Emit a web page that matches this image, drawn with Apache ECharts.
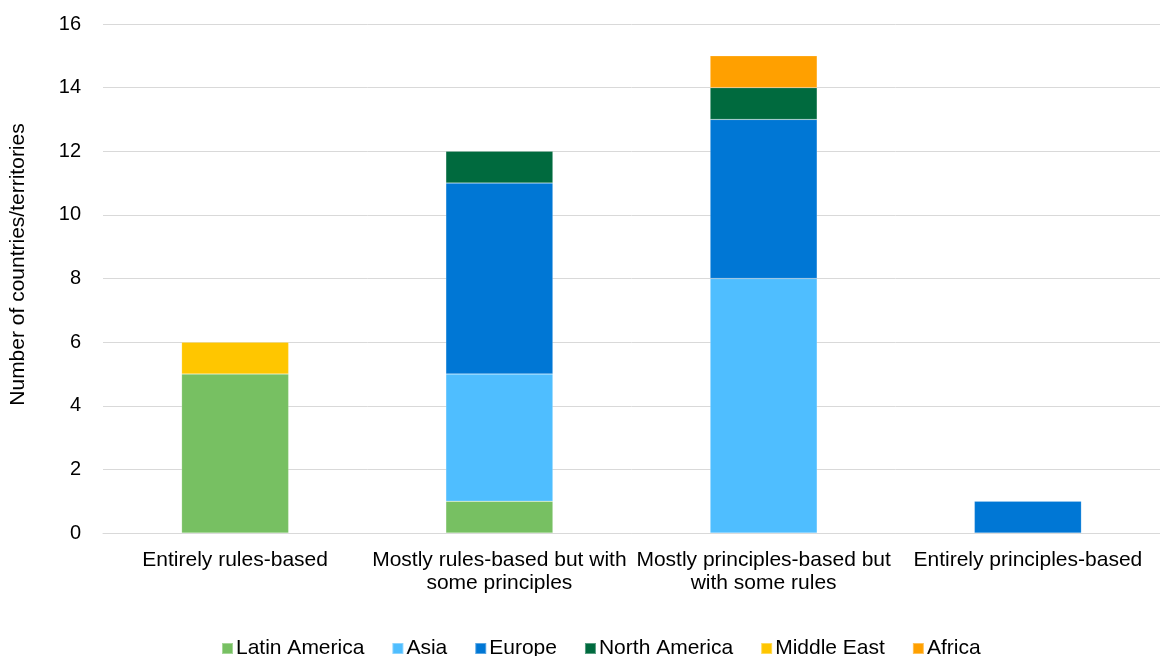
<!DOCTYPE html>
<html>
<head>
<meta charset="utf-8">
<script src="https://cdn.jsdelivr.net/npm/echarts@6/dist/echarts.min.js"></script>
<style>
  html, body { margin: 0; padding: 0; background: #fff; }
  #chart { width: 1160px; height: 656px; }
</style>
</head>
<body>
<div id="chart"></div>
<script>
// Regulatory approach categories (x axis)
const categories = [
  'Entirely rules-based',
  'Mostly rules-based but with\nsome principles',
  'Mostly principles-based but\nwith some rules',
  'Entirely principles-based'
];

// Number of countries/territories per region, one value per category
const latinAmerica = [5, 1, 0, 0];
const asia         = [0, 4, 8, 0];
const europe       = [0, 6, 5, 1];
const northAmerica = [0, 1, 1, 0];
const middleEast   = [1, 0, 0, 0];
const africa       = [0, 0, 1, 0];

const seriesNames = ['Latin America', 'Asia', 'Europe', 'North America', 'Middle East', 'Africa'];
const seriesData = [latinAmerica, asia, europe, northAmerica, middleEast, africa];
const seriesColors = ['#77C062', '#4FBEFF', '#0077D5', '#006A3E', '#FFC600', '#FFA000'];

const FONT = '"Liberation Sans", Arial, sans-serif';

const chart = echarts.init(document.getElementById('chart'), null, { renderer: 'canvas' });

chart.setOption({
  animation: false,
  textStyle: { fontFamily: FONT },
  grid: { left: 102, right: 0, top: 24, bottom: 123, containLabel: false },
  legend: {
    top: 633,
    left: 216,
    itemWidth: 11,
    itemHeight: 11,
    itemGap: 27,
    icon: 'rect',
    textStyle: { fontSize: 21, color: '#000', fontFamily: FONT, padding: [0, 0, 0, -2] },
    data: seriesNames
  },
  xAxis: {
    type: 'category',
    data: categories,
    axisLine: { lineStyle: { color: '#d9d9d9', width: 1 } },
    axisTick: { show: false },
    axisLabel: { color: '#000', fontSize: 21, lineHeight: 23, margin: 16, interval: 0 }
  },
  yAxis: {
    type: 'value',
    min: 0,
    max: 16,
    interval: 2,
    name: 'Number of countries/territories',
    nameLocation: 'middle',
    nameGap: 74,
    nameTextStyle: { color: '#000', fontSize: 21, padding: [0, 0, 0, 28] },
    axisLine: { show: false },
    axisTick: { show: false },
    axisLabel: { color: '#000', fontSize: 20, margin: 22 },
    splitLine: { lineStyle: { color: '#d9d9d9', width: 1 } }
  },
  series: seriesNames.map((name, i) => ({
    name: name,
    type: 'bar',
    stack: 'total',
    barWidth: '40.5%',
    data: seriesData[i].map(v => (v === 0 ? null : v)),
    itemStyle: { color: seriesColors[i], borderColor: 'rgba(255,255,255,0.35)', borderWidth: 0.5 }
  }))
});
</script>
</body>
</html>
